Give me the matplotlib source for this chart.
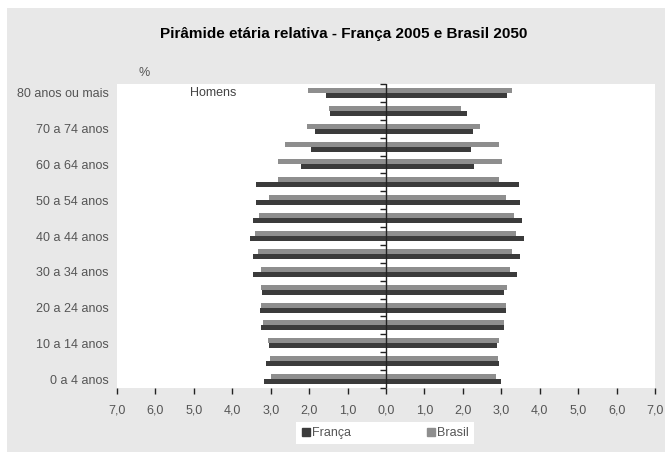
import matplotlib.pyplot as plt
import numpy as np
from matplotlib.patches import Rectangle
from matplotlib.lines import Line2D

# faixas etárias, de baixo para cima
faixas = ['0 a 4 anos', '5 a 9 anos', '10 a 14 anos', '15 a 19 anos', '20 a 24 anos',
          '25 a 29 anos', '30 a 34 anos', '35 a 39 anos', '40 a 44 anos', '45 a 49 anos',
          '50 a 54 anos', '55 a 59 anos', '60 a 64 anos', '65 a 69 anos', '70 a 74 anos',
          '75 a 79 anos', '80 anos ou mais']

# percentuais (homens à esquerda, mulheres à direita)
franca_homens = [3.17, 3.11, 3.05, 3.24, 3.28, 3.22, 3.45, 3.45, 3.54, 3.45,
                 3.37, 3.37, 2.22, 1.96, 1.85, 1.47, 1.57]
brasil_homens = [3.00, 3.02, 3.06, 3.19, 3.26, 3.24, 3.26, 3.34, 3.41, 3.31,
                 3.04, 2.80, 2.80, 2.63, 2.05, 1.48, 2.02]
franca_mulheres = [2.99, 2.95, 2.90, 3.07, 3.13, 3.08, 3.40, 3.49, 3.60, 3.55,
                   3.49, 3.45, 2.30, 2.21, 2.27, 2.10, 3.16]
brasil_mulheres = [2.86, 2.92, 2.95, 3.07, 3.13, 3.16, 3.23, 3.28, 3.38, 3.32,
                   3.12, 2.95, 3.01, 2.95, 2.45, 1.95, 3.27]

xticks = np.arange(-7, 8, 1)

cor_franca = '#3b3b3b'
cor_brasil = '#8e8e8e'
fonte = 'Liberation Sans'

fig = plt.figure(figsize=(6.72, 4.55), dpi=100)
fig.patch.set_facecolor('white')
fig.patches.append(Rectangle((0.0104, 0.0066), 0.979, 0.976, transform=fig.transFigure,
                             facecolor='#e8e8e8', edgecolor='none', zorder=-5))

ax = fig.add_axes([0.1741, 0.1473, 0.8006, 0.668])
ax.set_facecolor('white')

y = np.arange(len(faixas))
h = 0.28
ax.barh(y + h / 2, -np.array(brasil_homens), height=h, color=cor_brasil, label='Brasil')
ax.barh(y - h / 2, -np.array(franca_homens), height=h, color=cor_franca, label='França')
ax.barh(y + h / 2, brasil_mulheres, height=h, color=cor_brasil)
ax.barh(y - h / 2, franca_mulheres, height=h, color=cor_franca)

# eixo vertical no zero com marcas entre as faixas
ax.axvline(0, color='#222222', linewidth=1.0)
limites = np.arange(len(faixas) + 1) - 0.5
ax.plot(np.zeros(len(limites)), limites, linestyle='none', marker=0, markersize=4,
        markeredgewidth=1.0, color='#222222', clip_on=False)

ax.set_xlim(-7, 7)
ax.set_ylim(-0.5, len(faixas) - 0.5)
for s in ax.spines.values():
    s.set_visible(False)

ax.set_xticks(xticks)
ax.set_xticklabels([f'{abs(v):.1f}'.replace('.', ',') for v in xticks])
ax.tick_params(axis='x', length=4, width=1, color='#222222', pad=8,
               labelsize=9, labelcolor='#555555')
ax.set_yticks(y[::2])
ax.set_yticklabels(faixas[::2])
ax.tick_params(axis='y', length=0, pad=6, labelsize=9, labelcolor='#555555')
for lbl in ax.get_xticklabels() + ax.get_yticklabels():
    lbl.set_family(fonte)

ax.text(-6.45, len(faixas) - 0.2, '%', fontsize=9, color='#555555',
        family=fonte, va='bottom', clip_on=False)
ax.text(-4.5, len(faixas) - 1, 'Homens', fontsize=9, color='#444444',
        family=fonte, ha='center', va='center')

fig.text(0.512, 0.925, 'Pirâmide etária relativa - França 2005 e Brasil 2050',
         ha='center', va='center', fontsize=11, fontweight='bold', family=fonte)

handles = [Line2D([], [], marker='s', linestyle='none', color=cor_franca, markersize=6),
           Line2D([], [], marker='s', linestyle='none', color=cor_brasil, markersize=6)]
leg = fig.legend(handles, ['França', 'Brasil'], loc='center', bbox_to_anchor=(0.573, 0.048),
                 ncol=2, frameon=True, fancybox=False, edgecolor='none', facecolor='white',
                 framealpha=1, handletextpad=0.1, columnspacing=6, borderpad=0.4,
                 handlelength=0.8, prop={'family': fonte, 'size': 9})
for t in leg.get_texts():
    t.set_color('#555555')

fig.savefig('out.png', dpi=100, facecolor=fig.get_facecolor())
